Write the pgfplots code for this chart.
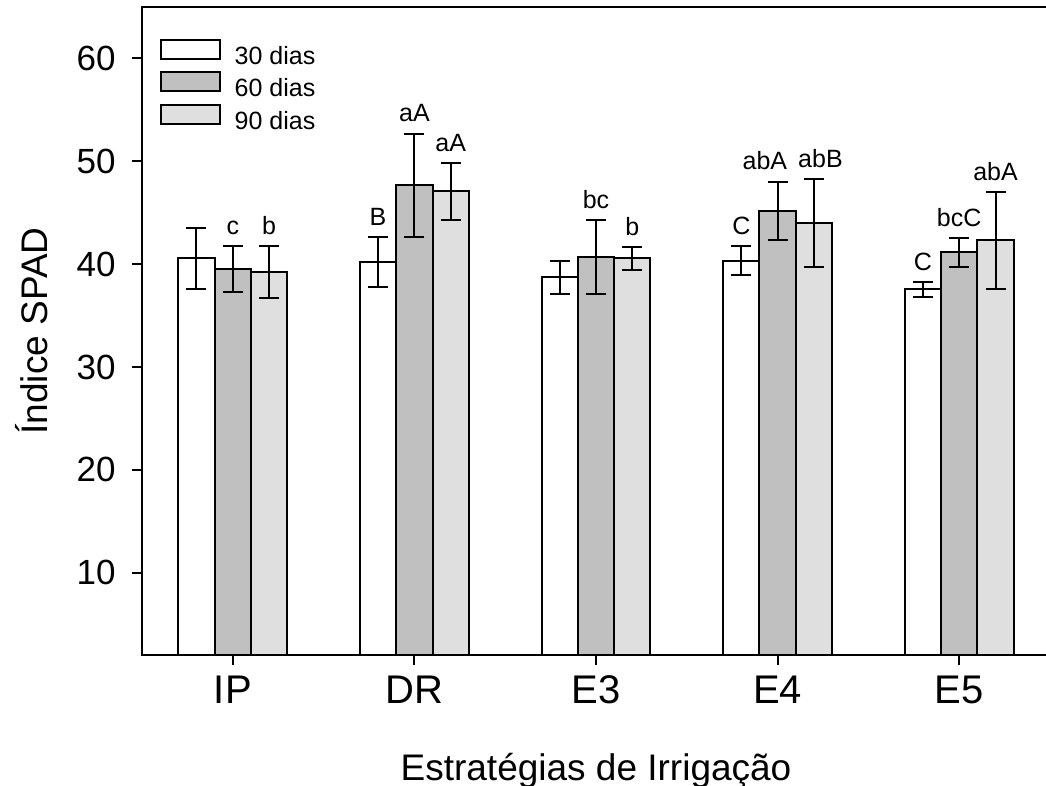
\documentclass[border=0pt]{standalone}
\usepackage{pgfplots}
\pgfplotsset{compat=1.18}
\usepackage{fontspec}
\setmainfont{Liberation Sans}
\definecolor{darkbar}{RGB}{192,192,192}
\definecolor{lightbar}{RGB}{223,223,223}
\begin{document}
\begin{tikzpicture}
\begin{axis}[
  name=ax,
  scale only axis,
  width=454pt, height=324pt,
  xmin=-0.5, xmax=4.5,
  ymin=2, ymax=65,
  xtick={0,1,2,3,4},
  xticklabels={IP,DR,E3,E4,E5},
  ytick={10,20,30,40,50,60},
  tick pos=left,
  tick align=outside,
  major tick length=5pt,
  axis line style={line width=1pt},
  tick style={line width=1pt, black},
  /pgf/number format/assume math mode=true,
  yticklabel style={font=\fontsize{17.5}{20}\selectfont, anchor=east, inner sep=0pt, xshift=-8pt},
  xticklabel style={font=\fontsize{20}{24}\selectfont, anchor=base, inner sep=0pt, yshift=-19pt},
  xlabel={Estratégias de Irrigação},
  ylabel={Índice SPAD},
  xlabel style={font=\fontsize{18.5}{21}\selectfont, at={(axis description cs:0.5,0)}, anchor=base, inner sep=0pt, yshift=-62.5pt},
  ylabel style={font=\fontsize{18.5}{21}\selectfont, at={([xshift=-55pt]axis description cs:0,0.5)}, anchor=center, inner sep=0pt},
  /pgf/bar width=0.2,
  legend image code/.code={\draw[#1, line width=1pt] (0pt,-0.65pt) rectangle (29.5pt,8.85pt);},
  legend style={at={(axis description cs:0,1)}, anchor=north west, xshift=9pt, yshift=-15.9pt,
    draw=none, fill=none, inner sep=0pt, outer sep=0pt, row sep=1.85pt, column sep=6.85pt,
    font=\fontsize{12.5}{14}\selectfont, cells={anchor=west},
    nodes={inner sep=0pt, text height=8.5pt, text depth=1.5pt}},
  every node near coord/.style={anchor=base, inner sep=0pt, yshift=5.8pt, font=\fontsize{12.5}{14}\selectfont, black},
]
% 30 dias
\addplot[ybar, bar shift=0pt, draw=black, line width=1pt, fill=white,
  error bars/.cd, y dir=both, y explicit,
  error bar style={line width=1pt, black},
  error mark options={rotate=90, mark size=5pt, line width=1pt, black}]
  table[x=x, y=y, y error=e] {
x y e
-0.2 40.56 2.93
0.8 40.22 2.40
1.8 38.73 1.60
2.8 40.32 1.40
3.8 37.54 0.70
};
% 60 dias
\addplot[ybar, bar shift=0pt, draw=black, line width=1pt, fill=darkbar,
  error bars/.cd, y dir=both, y explicit,
  error bar style={line width=1pt, black},
  error mark options={rotate=90, mark size=5pt, line width=1pt, black}]
  table[x=x, y=y, y error=e] {
x y e
0 39.51 2.26
1 47.66 5.03
2 40.68 3.60
3 45.19 2.81
4 41.14 1.40
};
% 90 dias
\addplot[ybar, bar shift=0pt, draw=black, line width=1pt, fill=lightbar,
  error bars/.cd, y dir=both, y explicit,
  error bar style={line width=1pt, black},
  error mark options={rotate=90, mark size=5pt, line width=1pt, black}]
  table[x=x, y=y, y error=e] {
x y e
0.2 39.22 2.55
1.2 47.08 2.76
2.2 40.55 1.08
3.2 43.96 4.28
4.2 42.30 4.67
};
\legend{30 dias, 60 dias, 90 dias}
% letter annotations above error bars
\addplot[forget plot, draw=none, mark=none, nodes near coords, point meta=explicit symbolic]
  table[x=x, y=y, meta=lab] {
x y lab
0.0 41.78 c
0.2 41.75 b
0.8 42.66 B
1.0 52.73 aA
1.2 49.80 aA
2.0 44.28 bc
2.2 41.65 b
2.8 41.75 C
2.93 48.05 abA
3.236 48.24 abB
3.8 38.22 C
4.0 42.53 bcC
4.2 46.98 abA
};
\end{axis}
\pgfresetboundingbox
\path[use as bounding box] ([xshift=-71pt,yshift=-65pt]ax.south west) rectangle ([xshift=-2pt,yshift=3.5pt]ax.north east);
\end{tikzpicture}
\end{document}
